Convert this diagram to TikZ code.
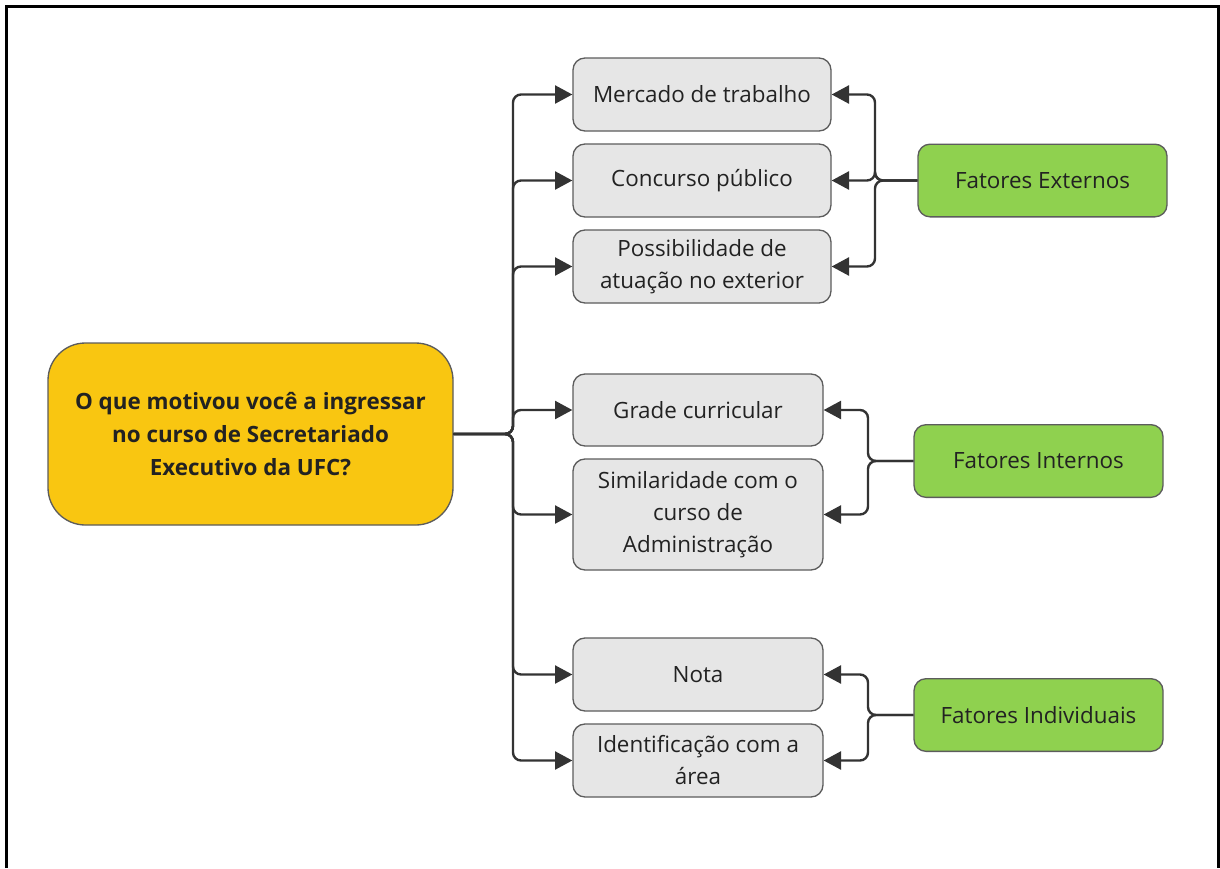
\documentclass[tikz,border=0pt]{standalone}
\usepackage{fontspec}
\setmainfont{Open Sans}
\usetikzlibrary{arrows.meta}
\definecolor{qyellow}{HTML}{F9C611}
\definecolor{qgreen}{HTML}{8FD14F}
\definecolor{qgray}{HTML}{E6E6E6}
\definecolor{qline}{HTML}{333333}
\definecolor{qtext}{HTML}{222222}
\tikzset{
  box/.style={draw=qline!80, line width=1pt, rounded corners=9pt, inner sep=0pt, align=center,
    text=qtext, font=\fontsize{16.8}{24}\selectfont},
  graybox/.style={box, fill=qgray},
  greenbox/.style={box, fill=qgreen, minimum width=186.75pt, minimum height=54.5pt},
  mainbox/.style={box, fill=qyellow, rounded corners=28pt, font=\fontsize{16.8}{24.75}\selectfont\bfseries,
    minimum width=303.75pt, minimum height=136.5pt},
  conn/.style={draw=qline, line width=1.8pt, rounded corners=6pt, -{Triangle[length=13pt,width=13.5pt]}},
}
\begin{document}
\begin{tikzpicture}[x=0.75pt,y=-0.75pt]
\useasboundingbox (0,0) rectangle (1220,868);
\draw[line width=2.25pt, black] (6,868) -- (6,6) -- (1218,6) -- (1218,868);

\node[mainbox] (main) at (250.5,434) {O que motivou você a ingressar\\no curso de Secretariado\\Executivo da UFC?};

\node[graybox, minimum width=193.5pt, minimum height=54.75pt] (b1) at (702,94.5) {Mercado de trabalho};
\node[graybox, minimum width=193.5pt, minimum height=54.75pt] (b2) at (702,180.5) {Concurso público};
\node[graybox, minimum width=193.5pt, minimum height=54.75pt] (b3) at (702,266.5) {Possibilidade de\\atuação no exterior};
\node[graybox, minimum width=187.5pt, minimum height=54pt] (b4) at (698,410) {Grade curricular};
\node[graybox, minimum width=187.5pt, minimum height=83.25pt] (b5) at (698,514.5) {Similaridade com o\\curso de\\Administração};
\node[graybox, minimum width=187.5pt, minimum height=54.75pt] (b6) at (698,674.5) {Nota};
\node[graybox, minimum width=187.5pt, minimum height=54.75pt] (b7) at (698,760.5) {Identificação com a\\área};

\node[greenbox] (fe) at (1042.5,180.5) {Fatores Externos};
\node[greenbox] (fi) at (1038.5,461) {Fatores Internos};
\node[greenbox] (fd) at (1038.5,715) {Fatores Individuais};

\coordinate (tr) at (513,434);
\foreach \b in {b1,b2,b3,b4,b5,b6,b7}
  \draw[conn] (main.east) -- (tr) |- (\b.west);

\coordinate (te) at (875,180.5);
\foreach \b in {b1,b2,b3}
  \draw[conn] (fe.west) -- (te) |- (\b.east);

\coordinate (ti) at (868,461);
\foreach \b in {b4,b5}
  \draw[conn] (fi.west) -- (ti) |- (\b.east);

\coordinate (td) at (868,715);
\foreach \b in {b6,b7}
  \draw[conn] (fd.west) -- (td) |- (\b.east);
\end{tikzpicture}
\end{document}
